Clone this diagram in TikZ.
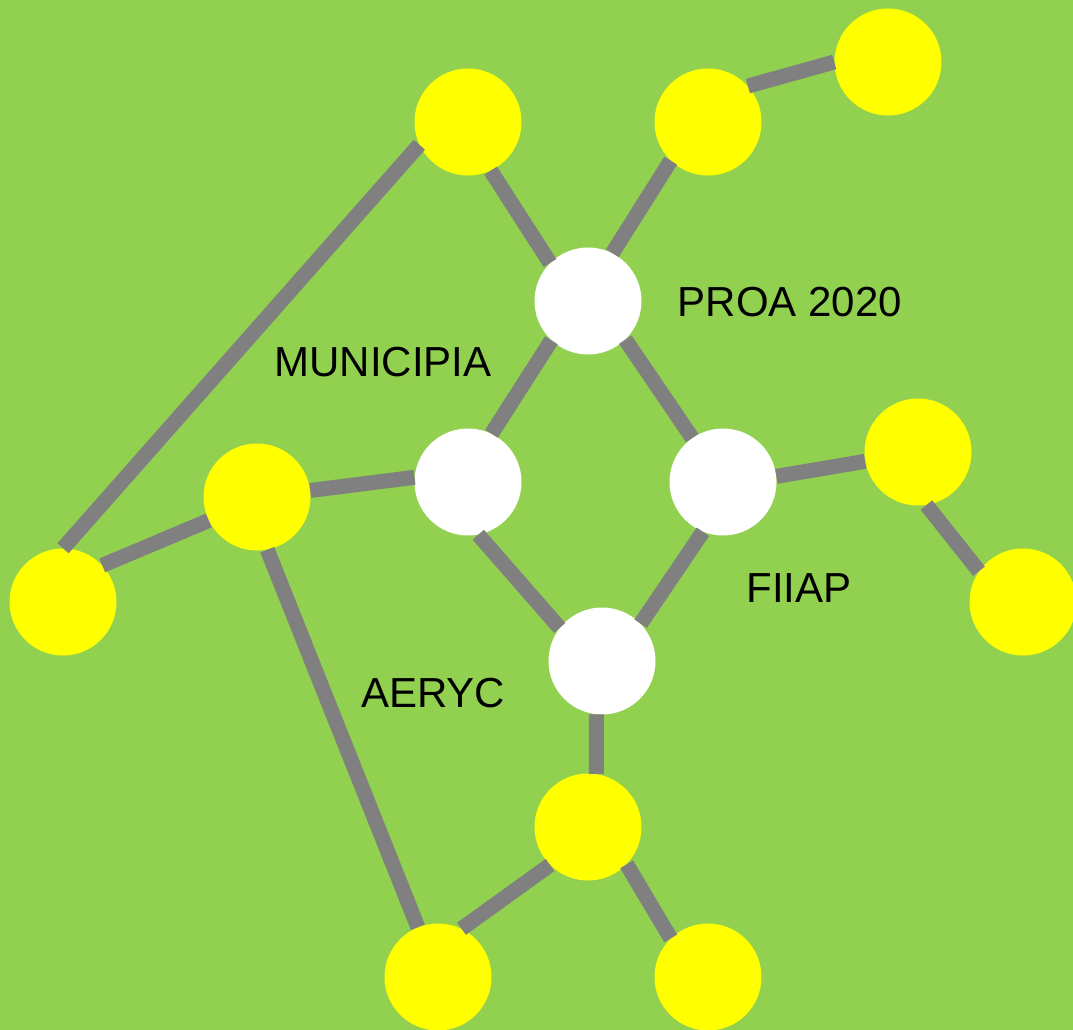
\documentclass[tikz,border=0pt]{standalone}
\usepackage{fontspec}
\setmainfont{Liberation Sans}
\definecolor{bggreen}{HTML}{92D050}
\definecolor{leafyellow}{HTML}{FFFF00}
\definecolor{linkgray}{HTML}{808080}

\begin{document}
\begin{tikzpicture}[x=1pt, y=-1pt,
    leaf/.style={circle, fill=leafyellow, minimum size=107pt, inner sep=0pt},
    hub/.style={circle, fill=white, minimum size=107pt, inner sep=0pt},
    link/.style={draw=linkgray, line width=15pt},
    tag/.style={font=\fontsize{42}{50}\selectfont, inner sep=0pt}]
    \useasboundingbox (0,0) rectangle (1073,1030);
    \fill[bggreen] (0,0) rectangle (1073,1030);

    \node[hub] (H1) at (588,301) {};
    \node[hub] (H2) at (468,482) {};
    \node[hub] (H3) at (723,482) {};
    \node[hub] (H4) at (602,661) {};

    \node[leaf] (L1) at (468,122) {};
    \node[leaf] (L2) at (708,122) {};
    \node[leaf] (L3) at (888,62) {};
    \node[leaf] (L4) at (918,452) {};
    \node[leaf] (L5) at (1023,602) {};
    \node[leaf] (L6) at (257,497) {};
    \node[leaf] (L7) at (63,602) {};
    \node[leaf] (L8) at (588,827) {};
    \node[leaf] (L9) at (438,977) {};
    \node[leaf] (L10) at (708,977) {};

    \draw[link] (L1.-65) -- (H1.135);
    \draw[link] (L2.-134) -- (H1.63);
    \draw[link] (L2.42) -- (L3.180);
    \draw[link] (L1.205) -- (L7.90);
    \draw[link] (H1.-133) -- (H2.64);
    \draw[link] (H1.-46) -- (H3.125);
    \draw[link] (L6.7) -- (H2.175);
    \draw[link] (L7.43) -- (L6.206);
    \draw[link] (L6.-79) -- (L9.112);
    \draw[link] (H3.6) -- (L4.190);
    \draw[link] (L4.-81) -- (L5.145);
    \draw[link] (H2.-79) -- (H4.142);
    \draw[link] (H3.-112) -- (H4.44);
    \draw[link] (H4.-96) -- (L8.81);
    \draw[link] (L8.-135) -- (L9.64);
    \draw[link] (L8.-44) -- (L10.134);

    \node[tag] (proa) at (790,302) {PROA 2020};
    \node[tag] (municipia) at (383,362) {MUNICIPIA};
    \node[tag] (fiiap) at (799,588) {FIIAP};
    \node[tag] (aeryc) at (433,693) {AERYC};
\end{tikzpicture}
\end{document}
